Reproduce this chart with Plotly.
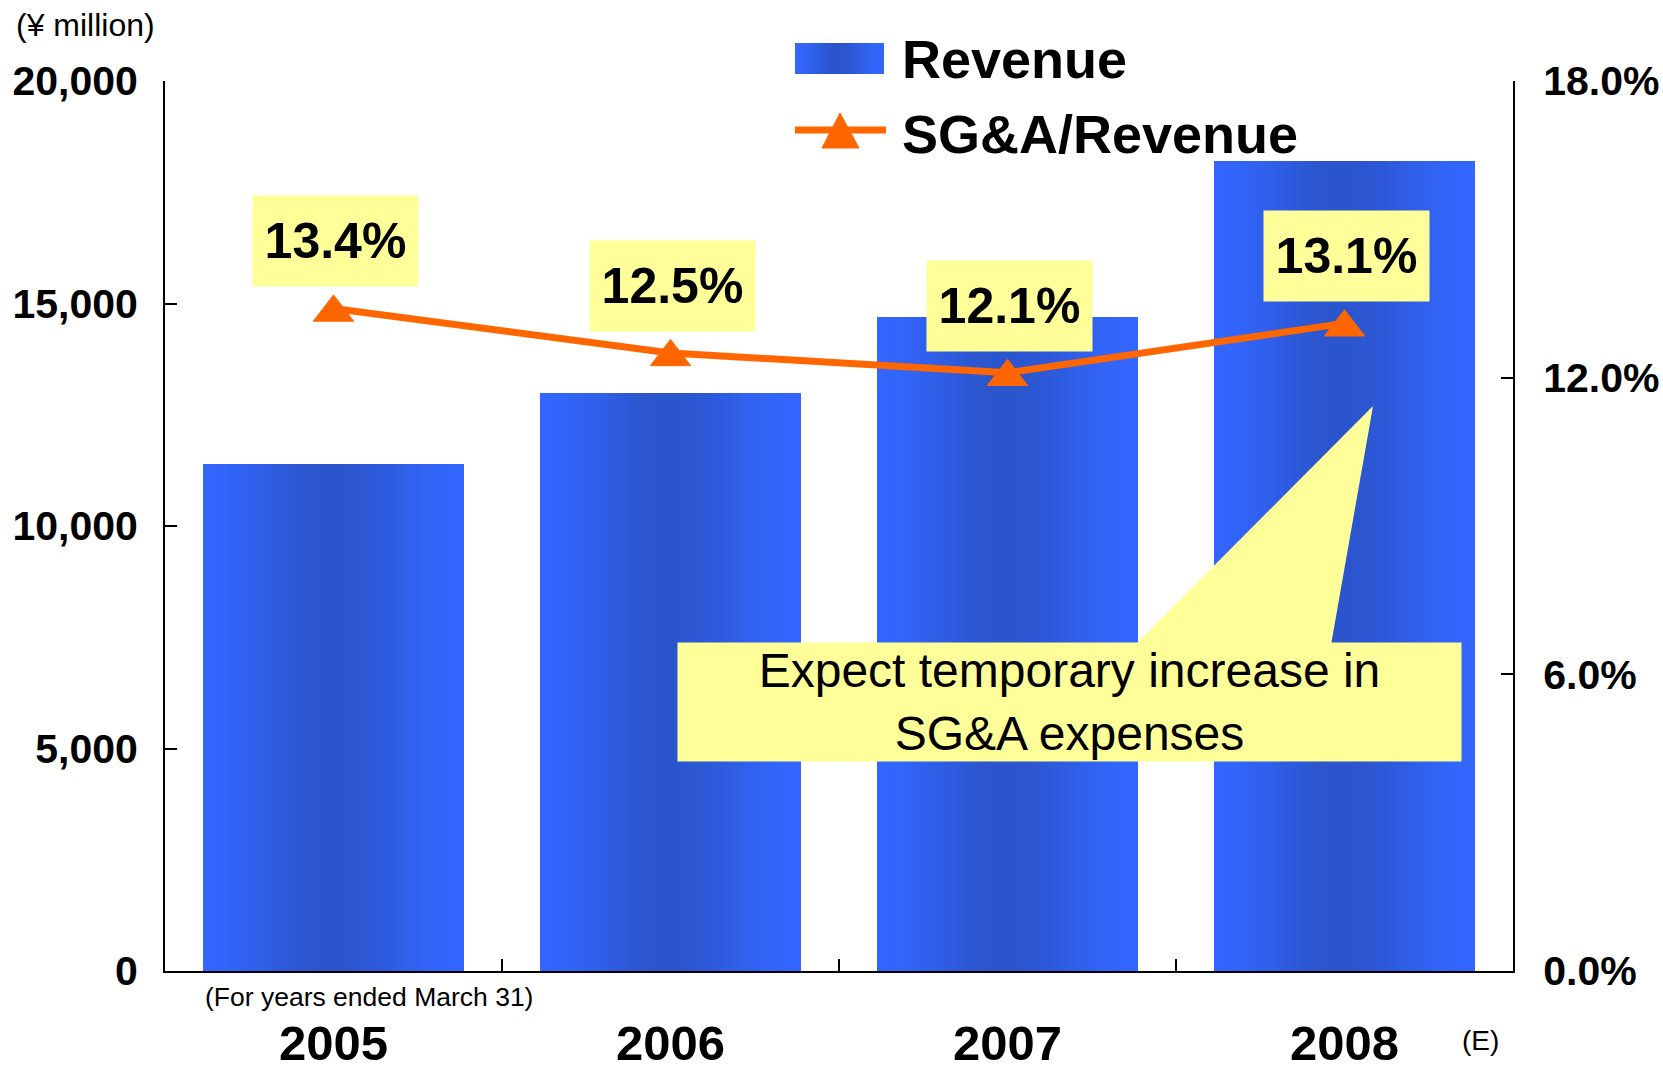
import plotly.graph_objects as go

# ---- data ----
years = ["2005", "2006", "2007", "2008"]
revenue = [11400, 13000, 14700, 18200]          # ¥ million
sga_ratio = [13.4, 12.5, 12.1, 13.1]            # %
sga_labels = ["13.4%", "12.5%", "12.1%", "13.1%"]
left_ticks = [0, 5000, 10000, 15000, 20000]
right_ticks = [0, 6, 12, 18]
right_tick_text = [f"{v:.1f}%" for v in right_ticks]
callout_text = "Expect temporary increase in<br>SG&A expenses"

# ---- style ----
FONT = "Arial, 'Liberation Sans', sans-serif"
W, H = 1663, 1071
L, T = 165, 81
PW, PH = 1348, 890
R = W - L - PW
B = H - T - PH
EDGE = (51, 102, 255)
DARK = (43, 85, 204)
ORANGE = "#FF6600"
YELLOW = "#FFFF99"
BAR_W = 0.777
N_STRIPS = 30


def px(x):
    """screen x -> paper"""
    return (x - L) / PW


def py(y):
    """screen y -> paper"""
    return (T + PH - y) / PH


def grad_color(t, peak=0.48):
    f = t / peak if t < peak else (1 - t) / (1 - peak)
    f = max(0.0, min(1.0, f))
    f = f * f * (3 - 2 * f)
    c = [round(EDGE[k] + (DARK[k] - EDGE[k]) * f) for k in range(3)]
    return f"rgb({c[0]},{c[1]},{c[2]})"


fig = go.Figure()

# base bar (mid colour) so strips never show seams
fig.add_trace(go.Bar(x=years, y=revenue, name="Revenue", width=BAR_W,
                     marker=dict(color=grad_color(0.25), line=dict(width=0)),
                     showlegend=False, hoverinfo="skip"))
# gradient strips
sw = BAR_W / N_STRIPS
for i in range(N_STRIPS):
    t = (i + 0.5) / N_STRIPS
    fig.add_trace(go.Bar(x=years, y=revenue, width=sw * (1.6 if i < N_STRIPS - 1 else 1.0),
                         offset=-BAR_W / 2 + i * sw,
                         marker=dict(color=grad_color(t), line=dict(width=0)),
                         showlegend=False, hoverinfo="skip"))

fig.add_trace(go.Scatter(x=years, y=sga_ratio, yaxis="y2", name="SG&A/Revenue",
                         mode="lines+markers",
                         line=dict(color=ORANGE, width=7),
                         marker=dict(symbol="triangle-up", size=35, color=ORANGE,
                                     standoff=4,
                                     line=dict(color=ORANGE, width=1)),
                         showlegend=False))

annotations = []
# data labels in yellow boxes
for i, (v, lab) in enumerate(zip(sga_ratio, sga_labels)):
    annotations.append(dict(x=i, y=v, xref="x", yref="y2", text=f"<b>{lab}</b>",
                            showarrow=False, yshift=67, xshift=2,
                            width=165, height=90, borderpad=0, bgcolor=YELLOW,
                            font=dict(family=FONT, size=50, color="black")))

# callout box
annotations.append(dict(xref="paper", yref="paper", x=px(1069.5), y=py(702),
                        xanchor="center", yanchor="middle", text=callout_text,
                        showarrow=False, width=783, height=118, borderpad=0,
                        bgcolor=YELLOW, align="center",
                        font=dict(family=FONT, size=48, color="black")))

# legend texts
annotations.append(dict(xref="paper", yref="paper", x=px(900), y=py(59),
                        xanchor="left", yanchor="middle", text="<b>Revenue</b>",
                        showarrow=False, font=dict(family=FONT, size=54, color="black")))
annotations.append(dict(xref="paper", yref="paper", x=px(900), y=py(134),
                        xanchor="left", yanchor="middle", text="<b>SG&A/Revenue</b>",
                        showarrow=False, font=dict(family=FONT, size=54, color="black")))

# small notes
annotations.append(dict(xref="paper", yref="paper", x=px(14), y=py(25),
                        xanchor="left", yanchor="middle", text="(¥ million)",
                        showarrow=False, font=dict(family=FONT, size=32, color="black")))
annotations.append(dict(xref="paper", yref="paper", x=px(203), y=py(997),
                        xanchor="left", yanchor="middle", text="(For years ended March 31)",
                        showarrow=False, font=dict(family=FONT, size=26.5, color="black")))
annotations.append(dict(xref="paper", yref="paper", x=px(1460), y=py(1040),
                        xanchor="left", yanchor="middle", text="(E)",
                        showarrow=False, font=dict(family=FONT, size=28, color="black")))

shapes = []
# callout pointer
shapes.append(dict(type="path", xref="paper", yref="paper", layer="above",
                   path=f"M {px(1135)},{py(645)} L {px(1373)},{py(406)} L {px(1331)},{py(645)} Z",
                   fillcolor=YELLOW, line=dict(width=0)))
# legend swatch: gradient rectangle
lx0, lx1, ly0, ly1 = 795, 884, 43, 74
n_leg = 24
for i in range(n_leg):
    a = lx0 + (lx1 - lx0) * i / n_leg
    b = lx0 + (lx1 - lx0) * (i + 1.8) / n_leg
    shapes.append(dict(type="rect", xref="paper", yref="paper",
                       x0=px(a), x1=px(min(b, lx1)), y0=py(ly1), y1=py(ly0),
                       fillcolor=grad_color((i + 0.5) / n_leg), line=dict(width=0)))
# legend swatch: line + triangle
shapes.append(dict(type="line", xref="paper", yref="paper",
                   x0=px(795), x1=px(886), y0=py(130), y1=py(130),
                   line=dict(color=ORANGE, width=7)))
shapes.append(dict(type="path", xref="paper", yref="paper",
                   path=f"M {px(822)},{py(148)} L {px(840)},{py(113)} L {px(859)},{py(148)} Z",
                   fillcolor=ORANGE, line=dict(color=ORANGE, width=1)))

fig.update_layout(
    width=W, height=H,
    margin=dict(l=L, r=R, t=T, b=B, autoexpand=False),
    paper_bgcolor="white", plot_bgcolor="white",
    barmode="overlay", bargap=0, showlegend=False,
    font=dict(family=FONT, color="black"),
    xaxis=dict(type="category", showline=True, linecolor="black", linewidth=2,
               ticks="inside", tickson="boundaries", ticklen=12, tickwidth=2,
               tickcolor="black", showgrid=False, zeroline=False,
               tickfont=dict(family=FONT, size=49, color="black", weight="bold"),
               ticklabelstandoff=28, range=[-0.5, 3.5]),
    yaxis=dict(range=[0, 20000], tickvals=left_ticks, tickformat=",",
               showline=True, linecolor="black", linewidth=2, ticks="inside",
               ticklen=12, tickwidth=2, tickcolor="black", showgrid=False,
               zeroline=False, ticklabelstandoff=17,
               tickfont=dict(family=FONT, size=41, color="black", weight="bold")),
    yaxis2=dict(range=[0, 18], tickvals=right_ticks, ticktext=right_tick_text,
                overlaying="y", side="right",
                showline=True, linecolor="black", linewidth=2, ticks="inside",
                ticklen=12, tickwidth=2, tickcolor="black", showgrid=False,
                zeroline=False, ticklabelstandoff=20,
                tickfont=dict(family=FONT, size=41, color="black", weight="bold")),
    annotations=annotations,
    shapes=shapes,
)

fig.write_html("out.html",
               config={"displayModeBar": False},
               post_script="document.body.style.margin='0';"
                           "document.body.style.overflow='hidden';")
